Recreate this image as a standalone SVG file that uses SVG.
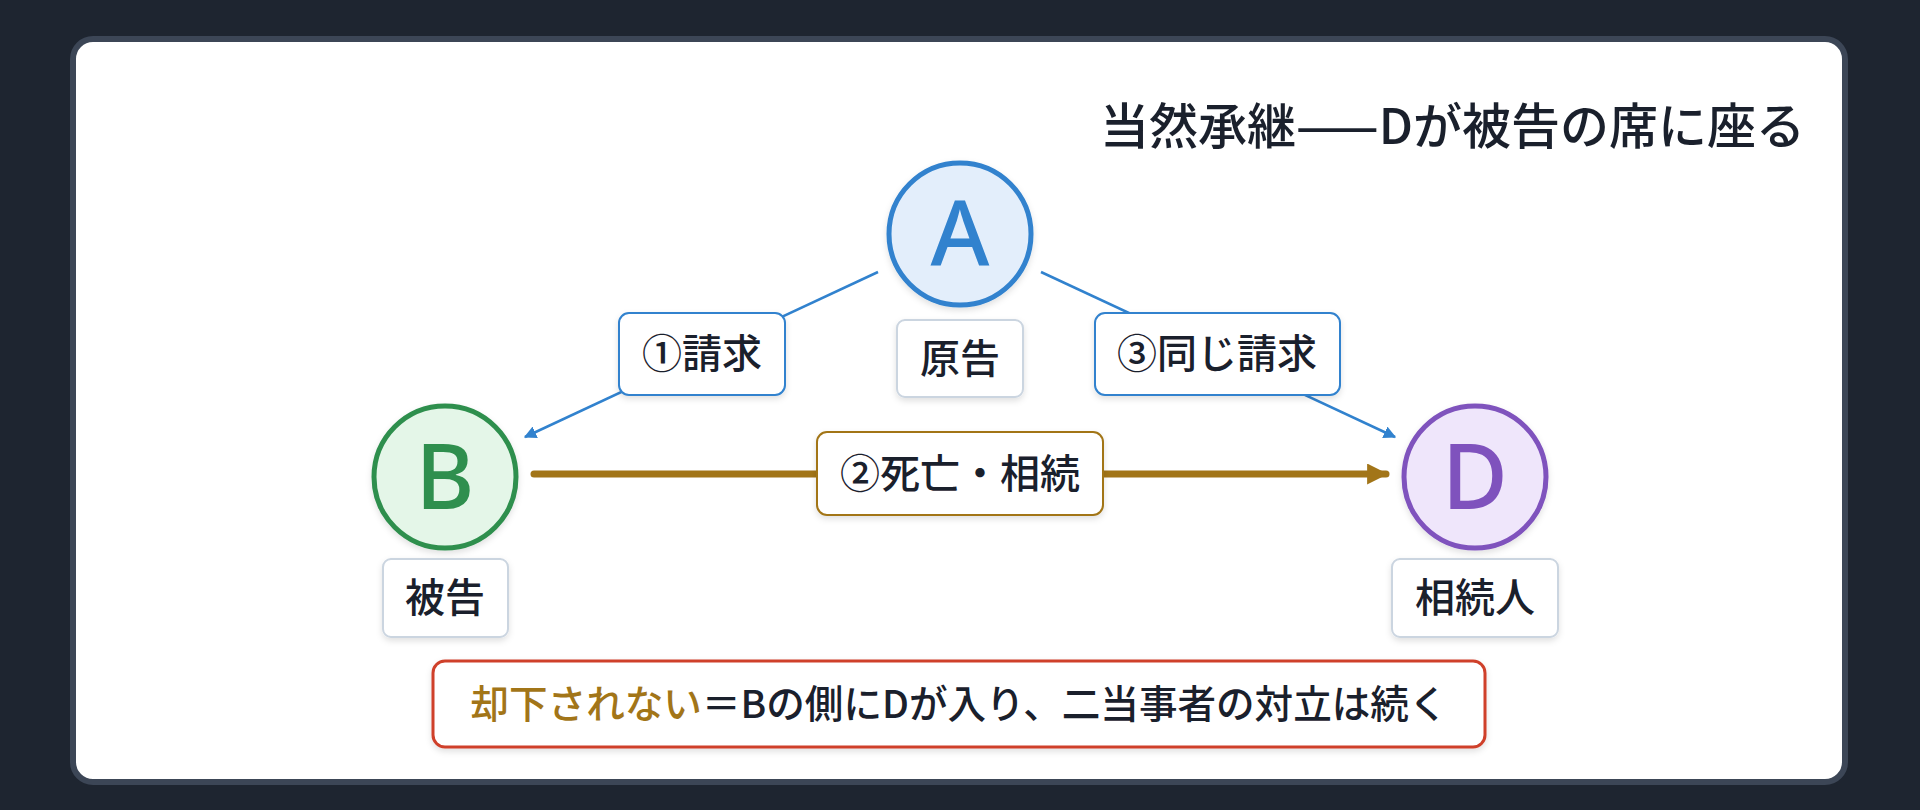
<svg xmlns="http://www.w3.org/2000/svg" width="1920" height="810" viewBox="0 0 1920 810">
  <defs>
    <filter id="sh" x="-20%" y="-20%" width="140%" height="150%">
      <feDropShadow dx="0" dy="3" stdDeviation="3" flood-color="#000" flood-opacity="0.12"/>
    </filter>
    <marker id="arrBlue" viewBox="0 0 10 10" refX="9" refY="5" markerWidth="5" markerHeight="5" orient="auto" markerUnits="strokeWidth">
      <path d="M0,0 L10,5 L0,10 z" fill="#3182ce"/>
    </marker>
    <marker id="arrBrown" viewBox="0 0 10 10" refX="9" refY="5" markerWidth="3" markerHeight="3" orient="auto" markerUnits="strokeWidth">
      <path d="M0,0 L10,5 L0,10 z" fill="#a27518"/>
    </marker>
    <style>
      .t { font-family: "Noto Sans CJK JP", "Noto Sans", sans-serif; fill: #1a202c; }
      .lbl { font-size: 40px; font-weight: 500; text-anchor: middle; }
      .box { fill: #ffffff; stroke: #cbd5e0; stroke-width: 2; filter: url(#sh); }
      .letter { font-family: "Noto Sans", "Noto Sans CJK JP", sans-serif; font-size: 90px; font-weight: 500; text-anchor: middle; }
      .blue { stroke: #3182ce; stroke-width: 2.5; fill: none; }
    </style>
  </defs>

  <rect x="0" y="0" width="1920" height="810" fill="#1e2530"/>
  <rect x="73" y="39" width="1772" height="743" rx="20" fill="#ffffff" stroke="#3c4656" stroke-width="6"/>

  <text class="t" x="1805" y="144" font-size="49" font-weight="500" text-anchor="end">当然承継——Dが被告の席に座る</text>

  <g id="connectors">
    <line class="blue" x1="878" y1="272" x2="525" y2="437" marker-end="url(#arrBlue)"/>
    <line class="blue" x1="1041" y1="272" x2="1395" y2="437" marker-end="url(#arrBlue)"/>
    <line x1="534" y1="474" x2="1386" y2="474" stroke="#a27518" stroke-width="7" stroke-linecap="round" marker-end="url(#arrBrown)"/>
  </g>

  <g id="label-claim1">
    <rect class="box" x="619" y="313" width="166" height="82" rx="10" style="stroke:#3182ce"/>
    <text class="t lbl" x="702" y="368">①請求</text>
  </g>
  <g id="label-claim3">
    <rect class="box" x="1095" y="313" width="245" height="82" rx="10" style="stroke:#3182ce"/>
    <text class="t lbl" x="1217" y="368">③同じ請求</text>
  </g>
  <g id="label-death">
    <rect class="box" x="817" y="432" width="286" height="83" rx="10" style="stroke:#a27518"/>
    <text class="t lbl" x="960" y="488">②死亡・相続</text>
  </g>

  <g id="node-A">
    <circle cx="960" cy="234" r="71" fill="#e3eefb" stroke="#3182ce" stroke-width="5" filter="url(#sh)"/>
    <text class="letter" x="960" y="266" fill="#3182ce">A</text>
    <rect class="box" x="897" y="320" width="126" height="77" rx="8"/>
    <text class="t lbl" x="960" y="373">原告</text>
  </g>

  <g id="node-B">
    <circle cx="445" cy="477" r="71" fill="#e4f6e8" stroke="#2f8f4e" stroke-width="5" filter="url(#sh)"/>
    <text class="letter" x="445" y="509" fill="#2f8f4e">B</text>
    <rect class="box" x="383" y="559" width="125" height="78" rx="8"/>
    <text class="t lbl" x="445" y="612">被告</text>
  </g>

  <g id="node-D">
    <circle cx="1475" cy="477" r="71" fill="#efe6fb" stroke="#7f52bd" stroke-width="5" filter="url(#sh)"/>
    <text class="letter" x="1475" y="509" fill="#7f52bd">D</text>
    <rect class="box" x="1392" y="559" width="166" height="78" rx="8"/>
    <text class="t lbl" x="1475" y="612">相続人</text>
  </g>

  <g id="note">
    <rect class="box" x="433" y="661" width="1052" height="86" rx="12" style="stroke:#cf3f2a;stroke-width:3"/>
    <text class="t" x="959" y="718" font-size="38.6" font-weight="500" text-anchor="middle"><tspan fill="#a27518">却下されない</tspan>＝Bの側にDが入り、二当事者の対立は続く</text>
  </g>
</svg>
